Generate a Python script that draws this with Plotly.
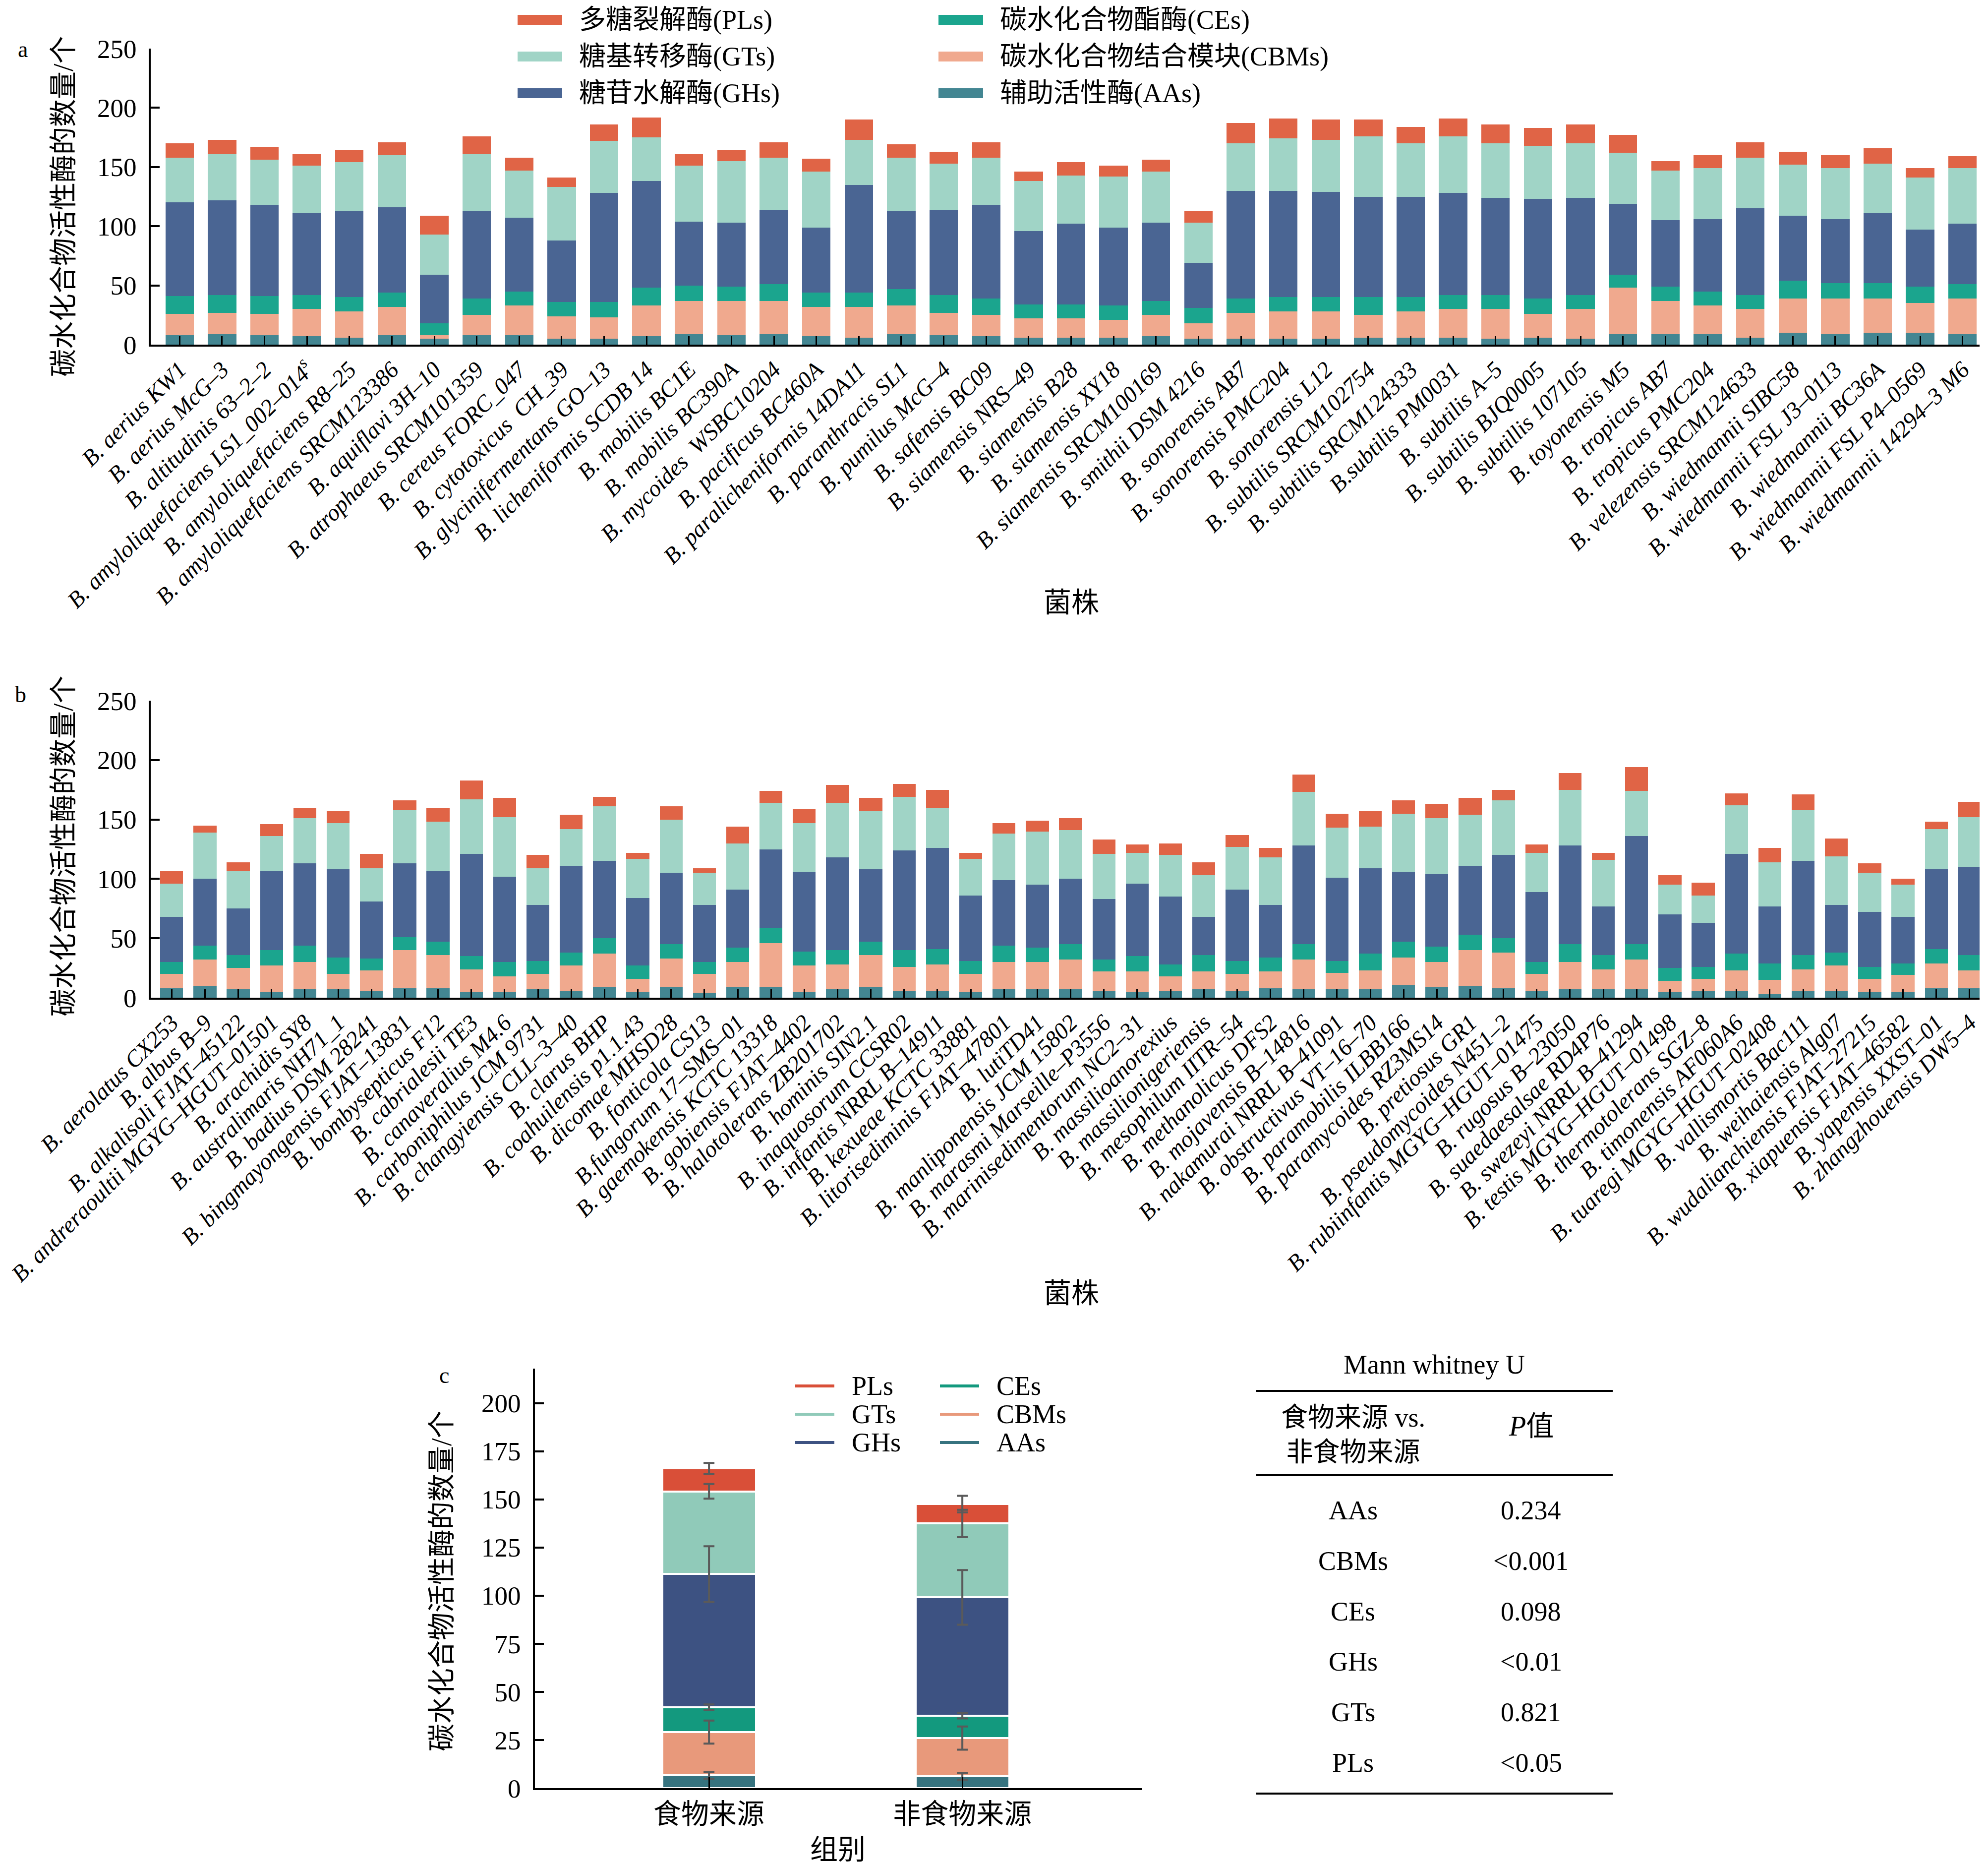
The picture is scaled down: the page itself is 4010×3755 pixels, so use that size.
import plotly.graph_objects as go
import numpy as np

W, H = 4010, 3755
SERIF = "Liberation Serif, Noto Sans CJK SC"

# ---- data ----
enzymes = ["AAs", "CBMs", "CEs", "GHs", "GTs", "PLs"]
enzyme_cn = {
    "PLs": "多糖裂解酶(PLs)",
    "GTs": "糖基转移酶(GTs)",
    "GHs": "糖苷水解酶(GHs)",
    "CEs": "碳水化合物酯酶(CEs)",
    "CBMs": "碳水化合物结合模块(CBMs)",
    "AAs": "辅助活性酶(AAs)",
}

a_strains = [
    "B. aerius KW1", "B. aerius McG–3", "B. altitudinis 63–2–2",
    "B. amyloliquefaciens LS1_002–014<sup>s</sup>", "B. amyloliquefaciens R8–25",
    "B. amyloliquefaciens SRCM123386", "B. aquiflavi 3H–10", "B. atrophaeus SRCM101359",
    "B. cereus FORC_047", "B. cytotoxicus  CH_39", "B. glycinifermentans GO–13",
    "B. licheniformis SCDB 14", "B. mobilis BC1E", "B. mobilis BC390A",
    "B. mycoides  WSBC10204", "B. pacificus BC460A", "B. paralicheniformis 14DA11",
    "B. paranthracis SL1", "B. pumilus McG–4", "B. safensis BC09",
    "B. siamensis NRS–49", "B. siamensis B28", "B. siamensis XY18",
    "B. siamensis SRCM100169", "B. smithii DSM 4216", "B. sonorensis AB7",
    "B. sonorensis PMC204", "B. sonorensis L12", "B. subtilis SRCM102754",
    "B. subtilis SRCM124333", "B.subtilis PM0031", "B. subtilis A–5",
    "B. subtilis BJQ0005", "B. subtillis 107105", "B. toyonensis M5",
    "B. tropicus AB7", "B. tropicus PMC204", "B. velezensis SRCM124633",
    "B. wiedmannii SIBC58", "B. wiedmannii FSL J3–0113", "B. wiedmannii BC36A",
    "B. wiedmannii FSL P4–0569", "B. wiedmannii 14294–3 M6",
]
a_AAs = [8, 9, 8, 7, 6, 8, 5, 8, 8, 5, 5, 7, 9, 8, 9, 7, 6, 9, 8, 7,
         6, 6, 6, 7, 5, 5, 5, 5, 6, 6, 6, 5, 6, 5, 9, 9, 9, 6, 10, 9, 10, 10, 9]
a_CBMs = [18, 18, 18, 23, 22, 24, 3, 17, 25, 19, 18, 26, 28, 29, 28, 25, 26, 24, 19, 18,
          16, 16, 15, 18, 13, 22, 23, 23, 19, 22, 24, 25, 20, 25, 39, 28, 24, 24, 29, 30, 29, 25, 30]
a_CEs = [15, 15, 15, 12, 12, 12, 10, 14, 12, 12, 13, 15, 13, 12, 14, 12, 12, 14, 15, 14,
         12, 12, 12, 12, 13, 12, 12, 12, 15, 12, 12, 12, 13, 12, 11, 12, 12, 12, 15, 13, 13, 14, 12]
a_GHs = [79, 80, 77, 69, 73, 72, 41, 74, 62, 52, 92, 90, 54, 54, 63, 55, 91, 66, 72, 79,
         62, 68, 66, 66, 38, 91, 90, 89, 85, 85, 86, 82, 84, 82, 60, 56, 61, 73, 55, 54, 59, 48, 51]
a_GTs = [38, 39, 38, 40, 41, 44, 34, 48, 40, 45, 44, 37, 47, 52, 44, 47, 38, 45, 39, 40,
         42, 41, 43, 43, 34, 40, 44, 44, 51, 45, 48, 46, 45, 46, 43, 42, 43, 43, 43, 43, 42, 44, 47]
a_PLs = [12, 12, 11, 10, 10, 11, 16, 15, 11, 8, 14, 17, 10, 9, 13, 11, 17, 11, 10, 13,
         8, 11, 9, 10, 10, 17, 17, 17, 14, 14, 15, 16, 15, 16, 15, 8, 11, 13, 11, 11, 13, 8, 10]

b_strains = [
    "B. aerolatus CX253", "B. albus B–9", "B. alkalisoli FJAT–45122",
    "B. andreraoultii MGYG–HGUT–01501", "B. arachidis SY8", "B. australimaris NH71_1",
    "B. badius DSM 28241", "B. bingmayongensis FJAT–13831", "B. bombysepticus F12",
    "B. cabrialesii TE3", "B. canaveralius M4.6", "B. carboniphilus JCM 9731",
    "B. changyiensis CLL–3–40", "B. clarus BHP", "B. coahuilensis p1.1.43",
    "B. dicomae MHSD28", "B. fonticola CS13", "B.fungorum 17–SMS–01",
    "B. gaemokensis KCTC 13318", "B. gobiensis FJAT–4402", "B. halotolerans ZB201702",
    "B. hominis SIN2.1", "B. inaquosorum CCSR02", "B. infantis NRRL B–14911",
    "B. kexueae KCTC 33881", "B. litorisediminis FJAT–47801", "B. lutiTD41",
    "B. manliponensis JCM 15802", "B. marasmi Marseille–P3556", "B. marinisedimentorum NC2–31",
    "B. massilioanorexius", "B. massilionigeriensis", "B. mesophilum IITR–54",
    "B. methanolicus DFS2", "B. mojavensis B–14816", "B. nakamurai NRRL B–41091",
    "B. obstructivus VT–16–70", "B. paramobilis ILBB166", "B. paramycoides RZ3MS14",
    "B. pretiosus GR1", "B. pseudomycoides N451–2", "B. rubiinfantis MGYG–HGUT–01475",
    "B. rugosus B–23050", "B. suaedaesalsae RD4P76", "B. swezeyi NRRL B–41294",
    "B. testis MGYG–HGUT–01498", "B. thermotolerans SGZ–8", "B. timonensis AF060A6",
    "B. tuaregi MGYG–HGUT–02408", "B. vallismortis Bac111", "B. weihaiensis Alg07",
    "B. wudalianchiensis FJAT–27215", "B. xiapuensis FJAT–46582", "B. yapensis XXST–01",
    "B. zhangzhouensis DW5–4",
]
b_AAs = [8, 10, 7, 5, 7, 7, 6, 8, 8, 5, 5, 7, 6, 9, 5, 9, 4, 9, 9, 5, 7, 9, 6, 6, 5, 7,
         7, 7, 6, 5, 6, 7, 6, 8, 7, 7, 7, 11, 9, 10, 8, 6, 7, 7, 7, 5, 6, 6, 3, 6, 6, 5, 5, 8, 8]
b_CBMs = [12, 22, 18, 22, 23, 13, 17, 32, 28, 19, 13, 13, 21, 28, 11, 24, 16, 21, 37, 22, 21, 27, 20, 22, 15, 23,
          23, 25, 16, 17, 12, 15, 14, 14, 25, 14, 16, 23, 21, 30, 30, 14, 23, 17, 25, 9, 10, 17, 12, 18, 21, 11, 14, 21, 15]
b_CEs = [10, 12, 11, 13, 14, 14, 10, 11, 11, 11, 12, 11, 11, 13, 11, 12, 10, 12, 13, 12, 12, 11, 14, 13, 11, 14,
         12, 13, 10, 13, 10, 14, 11, 12, 13, 10, 14, 13, 13, 13, 12, 10, 15, 12, 13, 11, 10, 14, 14, 12, 11, 10, 10, 12, 13]
b_GHs = [38, 56, 39, 67, 69, 74, 48, 62, 60, 86, 72, 47, 73, 65, 57, 60, 48, 49, 66, 67, 78, 61, 84, 85, 55, 55,
         53, 55, 51, 61, 57, 32, 60, 44, 83, 70, 72, 59, 61, 58, 70, 59, 83, 41, 91, 45, 37, 84, 48, 79, 40, 46, 39, 67, 74]
b_GTs = [28, 39, 32, 29, 38, 39, 28, 45, 41, 46, 50, 31, 31, 46, 33, 45, 27, 39, 39, 41, 46, 49, 45, 34, 31, 39,
         45, 41, 38, 26, 35, 35, 36, 40, 45, 42, 35, 49, 47, 43, 46, 33, 47, 39, 38, 25, 23, 41, 37, 43, 41, 33, 27, 34, 42]
b_PLs = [11, 6, 7, 10, 9, 10, 12, 8, 12, 16, 16, 11, 12, 8, 5, 11, 4, 14, 10, 12, 15, 11, 11, 15, 5, 9,
         9, 10, 12, 7, 10, 11, 10, 8, 15, 12, 13, 11, 12, 14, 9, 7, 14, 6, 20, 8, 11, 10, 12, 13, 15, 8, 5, 6, 13]

groups = ["食物来源", "非食物来源"]
c_AAs = [6.6, 6.2]
c_CBMs = [22.5, 19.8]
c_CEs = [12.9, 11.7]
c_GHs = [69.2, 61.4]
c_GTs = [43.0, 38.4]
c_PLs = [11.9, 10.1]
c_err_AAs = [1.7, 1.8]
c_err_CBMs = [6.0, 6.0]
c_err_CEs = [1.5, 1.5]
c_err_GHs = [14.5, 14.2]
c_err_GTs = [3.8, 7.1]
c_err_PLs = [2.9, 4.3]

table_enzymes = ["AAs", "CBMs", "CEs", "GHs", "GTs", "PLs"]
table_p = ["0.234", "<0.001", "0.098", "<0.01", "0.821", "<0.05"]

a_vals = dict(AAs=a_AAs, CBMs=a_CBMs, CEs=a_CEs, GHs=a_GHs, GTs=a_GTs, PLs=a_PLs)
b_vals = dict(AAs=b_AAs, CBMs=b_CBMs, CEs=b_CEs, GHs=b_GHs, GTs=b_GTs, PLs=b_PLs)
c_vals = dict(AAs=c_AAs, CBMs=c_CBMs, CEs=c_CEs, GHs=c_GHs, GTs=c_GTs, PLs=c_PLs)
c_errs = dict(AAs=c_err_AAs, CBMs=c_err_CBMs, CEs=c_err_CEs, GHs=c_err_GHs, GTs=c_err_GTs, PLs=c_err_PLs)

colors_ab = dict(AAs="#438692", CBMs="#F0A98E", CEs="#1BA58E", GHs="#4A6593", GTs="#A0D4C6", PLs="#E06446")
colors_c = dict(AAs="#36737F", CBMs="#E8997B", CEs="#13997E", GHs="#3D5282", GTs="#90CAB9", PLs="#D94F38")


def px(x):
    return x / W


def py(y):
    return 1 - y / H


fig = go.Figure()

# panels a and b
for vals, xa, ya, strains, bw in [(a_vals, "x", "y", a_strains, 0.67),
                                  (b_vals, "x2", "y2", b_strains, 0.69)]:
    for e in enzymes:
        fig.add_trace(go.Bar(
            x=strains, y=vals[e], width=bw, name=e,
            marker=dict(color=colors_ab[e], line=dict(width=0)),
            xaxis=xa, yaxis=ya, showlegend=False,
        ))

# panel c
for e in enzymes:
    fig.add_trace(go.Bar(
        x=groups, y=c_vals[e], width=0.37, name=e,
        marker=dict(color=colors_c[e], line=dict(color="white", width=4)),
        xaxis="x3", yaxis="y3", showlegend=False,
    ))
tops = np.cumsum([c_vals[e] for e in enzymes], axis=0)
for i, e in enumerate(enzymes):
    fig.add_trace(go.Scatter(
        x=groups, y=tops[i], mode="markers",
        marker=dict(size=1, color="rgba(0,0,0,0)"),
        error_y=dict(type="data", array=c_errs[e], color="#5a5a5a", thickness=4, width=11),
        xaxis="x3", yaxis="y3", showlegend=False, hoverinfo="skip",
    ))

axis_common = dict(showline=True, linewidth=4, linecolor="black", showgrid=False,
                   zeroline=False, tickcolor="black", fixedrange=True, automargin=False)
ytick_font = dict(family=SERIF, size=53, color="black")
xtick_font = dict(family=SERIF, size=47, color="black")

fig.update_layout(
    width=W, height=H, margin=dict(l=0, r=0, t=0, b=0, autoexpand=False),
    paper_bgcolor="white", plot_bgcolor="white", showlegend=False,
    barmode="stack", font=dict(family=SERIF, color="black"),
    xaxis=dict(domain=[px(296), px(3985)], range=[-0.68, 42.4], type="category",
               tickmode="array", tickvals=a_strains, ticktext=[f"<i>{s}</i>" for s in a_strains],
               tickangle=-45, tickfont=xtick_font, ticks="inside", ticklen=17, tickwidth=3,
               anchor="y", **axis_common),
    yaxis=dict(domain=[py(687), py(90)], range=[0, 250], tickvals=[0, 50, 100, 150, 200, 250],
               ticks="inside", ticklen=18, tickwidth=4, tickfont=ytick_font,
               ticklabelstandoff=14, anchor="x", **axis_common),
    xaxis2=dict(domain=[px(296), px(3985)], range=[-0.63, 54.3], type="category",
                tickmode="array", tickvals=b_strains, ticktext=[f"<i>{s}</i>" for s in b_strains],
                tickangle=-45, tickfont=xtick_font, ticks="inside", ticklen=17, tickwidth=3,
                anchor="y2", **axis_common),
    yaxis2=dict(domain=[py(2004), py(1405)], range=[0, 250], tickvals=[0, 50, 100, 150, 200, 250],
                ticks="inside", ticklen=18, tickwidth=4, tickfont=ytick_font,
                ticklabelstandoff=14, anchor="x2", **axis_common),
    xaxis3=dict(domain=[px(1071), px(2296)], range=[-0.687, 1.71], type="category",
                tickfont=dict(family=SERIF, size=56, color="black"), ticks="inside",
                ticklen=22, tickwidth=3, anchor="y3", **axis_common),
    yaxis3=dict(domain=[py(3598), py(2752)], range=[0, 218],
                tickvals=[0, 25, 50, 75, 100, 125, 150, 175, 200],
                ticks="inside", ticklen=18, tickwidth=4, tickfont=ytick_font,
                ticklabelstandoff=14, anchor="x3", **axis_common),
)

ytitle = "碳水化合物活性酶的数量/个"
annotations = [
    dict(text="a", x=px(38), y=py(92), font=dict(size=46)),
    dict(text="b", x=px(33), y=py(1392), font=dict(size=46)),
    dict(text="c", x=px(888), y=py(2765), font=dict(size=46)),
    dict(text=ytitle, x=px(120), y=py(408), textangle=-90, font=dict(size=56)),
    dict(text=ytitle, x=px(120), y=py(1698), textangle=-90, font=dict(size=56)),
    dict(text=ytitle, x=px(883), y=py(3180), textangle=-90, font=dict(size=56)),
    dict(text="菌株", x=px(2153), y=py(1207), font=dict(size=56)),
    dict(text="菌株", x=px(2153), y=py(2600), font=dict(size=56)),
    dict(text="组别", x=px(1682), y=py(3722), font=dict(size=56)),
    # table
    dict(text="Mann whitney U", x=px(2885), y=py(2744), font=dict(size=54)),
    dict(text="食物来源 vs.<br>非食物来源", x=px(2721), y=py(2886), font=dict(size=54)),
    dict(text="<i>P</i>值", x=px(3080), y=py(2868), font=dict(size=56)),
]
row_y0, row_step = 3038, 101.8
for i, (name, p) in enumerate(zip(table_enzymes, table_p)):
    yy = py(row_y0 + i * row_step)
    annotations.append(dict(text=name, x=px(2721), y=yy, font=dict(size=54)))
    annotations.append(dict(text=p, x=px(3080), y=yy, font=dict(size=54)))

shapes = []
for yline in [2797, 2967, 3609]:
    shapes.append(dict(type="line", x0=px(2526), x1=px(3245),
                       y0=py(yline), y1=py(yline), line=dict(color="black", width=4)))

# legends (two columns each)
col1 = ["PLs", "GTs", "GHs"]
col2 = ["CEs", "CBMs", "AAs"]
for col, sx in [(col1, 1036), (col2, 1885)]:
    for i, e in enumerate(col):
        cy = 32 + i * 74
        shapes.append(dict(type="rect", x0=px(sx), x1=px(sx + 90), y0=py(cy + 10), y1=py(cy - 10),
                           fillcolor=colors_ab[e], line=dict(width=0)))
        annotations.append(dict(text=enzyme_cn[e], x=px(sx + 122), y=py(cy), xanchor="left",
                                font=dict(size=54)))
for col, sx in [(col1, 1596), (col2, 1888)]:
    for i, e in enumerate(col):
        cy = 2787 + i * 57
        shapes.append(dict(type="line", x0=px(sx), x1=px(sx + 79), y0=py(cy), y1=py(cy),
                           line=dict(color=colors_c[e], width=6)))
        annotations.append(dict(text=e, x=px(sx + 112), y=py(cy), xanchor="left",
                                font=dict(size=54)))

for a in annotations:
    a.update(xref="paper", yref="paper", showarrow=False, yanchor="middle")
    a.setdefault("xanchor", "center")
    a["font"].update(family=SERIF, color="black")
for s in shapes:
    s.update(xref="paper", yref="paper")
fig.update_layout(annotations=annotations, shapes=shapes)

fig.write_html("out.html")
